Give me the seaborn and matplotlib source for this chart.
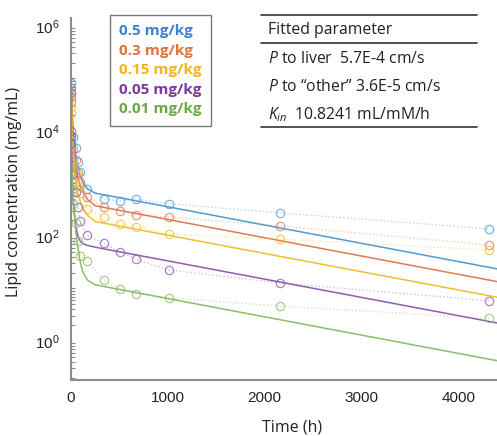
import numpy as np
import pandas as pd
import matplotlib
matplotlib.use('Agg')
import matplotlib.pyplot as plt
import seaborn as sns
from matplotlib.lines import Line2D
from matplotlib.ticker import LogLocator, NullFormatter, LogFormatterMathtext

sns.set_theme(style="white")
plt.rcParams['font.family'] = ['Liberation Sans', 'DejaVu Sans']
plt.rcParams['mathtext.fontset'] = 'custom'
plt.rcParams['mathtext.rm'] = 'Open Sans'
plt.rcParams['mathtext.it'] = 'Open Sans:italic'

# ---------------------------------------------------------
# Data
# ---------------------------------------------------------
doses = ['0.5 mg/kg', '0.3 mg/kg', '0.15 mg/kg', '0.05 mg/kg', '0.01 mg/kg']
text_colors = ['#3b82cf', '#e2733a', '#f4b41a', '#7a3aa0', '#6aaa45']
line_colors = ['#4f9bd6', '#e07a52', '#f1be2e', '#8f5cb0', '#8dbd6a']

# measured time points (h)
obs_time = [0.083, 0.25, 1, 24, 48, 72, 96, 168, 336, 504, 672, 1008, 2160, 4320]
obs_05 = [8.2e4, 6.6e4, 5.3e4, 7.7e3, 4.8e3, 2.6e3, 1.66e3, 790, 505, 465, 505, 410, 275, 136]
obs_03 = [5.5e4, 4.5e4, 3.6e4, 4.5e3, 2.8e3, 1.6e3, 1.07e3, 550, 355, 300, 250, 230, 155, 67]
obs_015 = [3.5e4, 2.8e4, 2.2e4, 2.5e3, 1.5e3, 900, 660, 325, 230, 170, 148, 109, 87, 54]
obs_005 = [1.0e4, 8.0e3, 6.0e3, 1.5e3, 700, 350, 192, 104, 73, 50, 36, 22.5, 12.7, 5.8]
obs_001 = [2.5e3, 2.0e3, 1.6e3, 400, 180, 80, 41.7, 33, 14.5, 9.8, 7.9, 6.6, 4.6, 2.7]

# fitted model curves (h)
fit_time = [0, 12, 24, 48, 72, 96, 120, 168, 250, 4400]
fit_05 = [1.4e5, 2.5e4, 8.9e3, 3.5e3, 2.0e3, 1.4e3, 1.07e3, 795, 655, 23.6]
fit_03 = [8.9e4, 1.6e4, 5.6e3, 2.2e3, 1.26e3, 890, 690, 500, 376, 13.5]
fit_015 = [5.6e4, 1.0e4, 3.2e3, 1.12e3, 630, 447, 347, 251, 188, 6.8]
fit_005 = [1.26e4, 1.6e3, 400, 158, 100, 79, 72, 66, 61, 2.2]
fit_001 = [3.2e3, 1.26e3, 500, 126, 56, 32, 21, 14.5, 11.7, 0.42]

obs_all = [obs_05, obs_03, obs_015, obs_005, obs_001]
fit_all = [fit_05, fit_03, fit_015, fit_005, fit_001]

# ---------------------------------------------------------
# Plot
# ---------------------------------------------------------
fig = plt.figure(figsize=(4.97, 4.36), dpi=100)
ax = fig.add_axes([71 / 497, 56 / 436, 1 - 71 / 497, (380 - 18) / 436])

for dose, color, obs, fit in zip(doses, line_colors, obs_all, fit_all):
    obs_df = pd.DataFrame({'Time': obs_time, 'Conc': obs})
    fit_df = pd.DataFrame({'Time': fit_time, 'Conc': fit})
    # measured data: open circles joined by a faint dotted line
    sns.lineplot(data=obs_df, x='Time', y='Conc', ax=ax, color=color, alpha=0.4,
                 linestyle=':', linewidth=1.0)
    sns.lineplot(data=obs_df, x='Time', y='Conc', ax=ax, color=color, alpha=0.75,
                 linestyle='none', marker='o', markersize=6, markerfacecolor='none',
                 markeredgecolor=color, markeredgewidth=0.9)
    # model fit
    sns.lineplot(data=fit_df, x='Time', y='Conc', ax=ax, color=color, linewidth=1.1)

ax.set_yscale('log')
ax.set_xlim(0, 4400)
ax.set_ylim(0.18, 1.42e6)
ax.set_xticks([0, 1000, 2000, 3000, 4000])
ax.yaxis.set_major_locator(LogLocator(base=100))
ax.yaxis.set_major_formatter(LogFormatterMathtext(base=10))
ax.yaxis.set_minor_locator(LogLocator(base=10, subs=np.arange(1, 10), numticks=30))
ax.yaxis.set_minor_formatter(NullFormatter())

for side in ['top', 'right']:
    ax.spines[side].set_visible(False)
for side in ['left', 'bottom']:
    ax.spines[side].set_color('#8c8c8c')
    ax.spines[side].set_linewidth(1.5)
ax.tick_params(axis='both', which='major', direction='in', length=5, width=1,
               color='#8c8c8c', labelsize=11, labelcolor='#222222', pad=8)
ax.tick_params(axis='y', which='minor', direction='in', length=3, width=0.8,
               color='#8c8c8c', left=True)
ax.grid(False)

ax.set_xlabel('Time (h)', fontfamily='Open Sans', fontsize=11.5, color='#222222')
ax.set_ylabel('Lipid concentration (mg/mL)', fontfamily='Open Sans', fontsize=11.5,
              color='#222222')
ax.xaxis.set_label_coords((292 - 71) / 426, (380 - 419) / 362)
ax.yaxis.set_label_coords((22 - 71) / 426, 0.52)

# dose legend (text only)
handles = [Line2D([], [], linestyle='none') for _ in doses]
leg = ax.legend(handles, doses, loc='upper left', bbox_to_anchor=(110 / 497, 1 - 15 / 436),
                bbox_transform=fig.transFigure, borderaxespad=0, handlelength=0,
                handletextpad=0, frameon=True, fancybox=False, borderpad=0.62,
                labelspacing=0.36, prop={'family': 'Open Sans', 'weight': 'bold', 'size': 11})
leg.get_frame().set_edgecolor('#555555')
leg.get_frame().set_linewidth(1.0)
for txt, c in zip(leg.get_texts(), text_colors):
    txt.set_color(c)

# parameter table
for ypx in [15, 43, 127]:
    fig.add_artist(Line2D([261 / 497, 477 / 497], [1 - ypx / 436] * 2,
                          transform=fig.transFigure, color='#333333', linewidth=1.2))
table_rows = ['Fitted parameter',
              r'$P$ to liver  5.7E-4 cm/s',
              r'$P$ to “other” 3.6E-5 cm/s',
              r'$K_{in}$  10.8241 mL/mM/h']
for row, ypx in zip(table_rows, [30, 59, 87, 115]):
    fig.text(268 / 497, 1 - ypx / 436, row, fontfamily='Open Sans', fontsize=11.3,
             color='#222222', va='center', ha='left')

plt.savefig('out.png', dpi=100)
plt.close()
